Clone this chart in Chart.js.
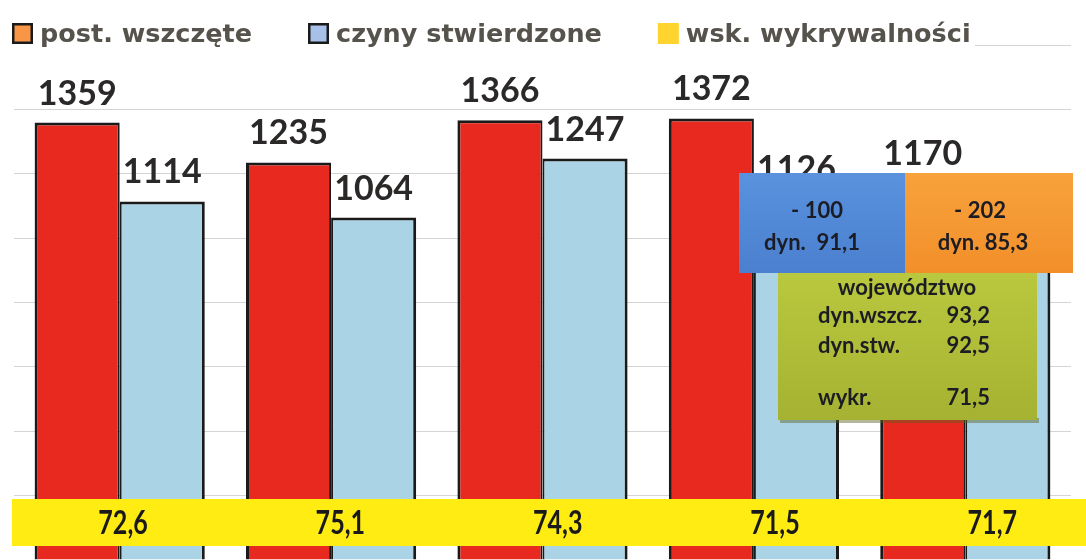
<!DOCTYPE html>
<html>
<head>
<meta charset="utf-8">
<script src="https://cdn.jsdelivr.net/npm/chart.js@4.4.1/dist/chart.umd.min.js"></script>
<style>
  html, body { margin: 0; padding: 0; background: #fff; overflow: hidden; }
</style>
</head>
<body>
<canvas id="myChart" width="1086" height="560"></canvas>
<script>
// dane
const categories = ['1', '2', '3', '4', '5'];
const postWszczete = [1359, 1235, 1366, 1372, 1170];
const czynyStwierdzone = [1114, 1064, 1247, 1126, 1026];
const wskWykrywalnosci = [72.6, 75.1, 74.3, 71.5, 71.7];
const seriesNames = ['post. wszczęte', 'czyny stwierdzone', 'wsk. wykrywalności'];
const legendColors = ['#f79646', '#a7c0e8', '#ffd42e'];

// ramki z komentarzem
const boxBlue = ['- 100', 'dyn.  91,1'];
const boxOrange = ['- 202', 'dyn. 85,3'];
const boxGreenTitle = 'województwo';
const boxGreenRows = [['dyn.wszcz.', '93,2'], ['dyn.stw.', '92,5'], ['wykr.', '71,5']];

const fmt = v => v.toFixed(1).replace('.', ',');

function gradBox(ctx, x, y, w, h, c1, c2) {
  const g = ctx.createLinearGradient(0, y, 0, y + h);
  g.addColorStop(0, c1);
  g.addColorStop(1, c2);
  ctx.fillStyle = g;
  ctx.fillRect(x, y, w, h);
}

const extras = {
  id: 'extras',
  beforeDatasetsDraw(chart) {
    const ctx = chart.ctx;
    ctx.save();
    // legenda zaslania gorna linie siatki
    ctx.fillStyle = '#fff';
    ctx.fillRect(0, 0, 975, 50);
    ctx.font = 'bold 25.5px "DejaVu Sans"';
    ctx.textBaseline = 'alphabetic';
    let x = 12;
    seriesNames.forEach((name, i) => {
      ctx.fillStyle = legendColors[i];
      ctx.fillRect(x, 23, 21, 21);
      if (i < 2) {
        ctx.lineWidth = 2.5;
        ctx.strokeStyle = '#1a1a1a';
        ctx.strokeRect(x + 1.25, 24.25, 18.5, 18.5);
      }
      ctx.fillStyle = '#56524c';
      ctx.fillText(name, x + 28, 42);
      x += 28 + ctx.measureText(name).width + 56;
    });
    ctx.restore();
  },
  afterDatasetsDraw(chart) {
    const ctx = chart.ctx;
    ctx.save();
    // etykiety nad slupkami
    ctx.font = 'bold 34px Lato';
    ctx.textAlign = 'center';
    ctx.textBaseline = 'alphabetic';
    ctx.fillStyle = '#2b2828';
    [0, 1].forEach(d => {
      const ds = chart.data.datasets[d];
      chart.getDatasetMeta(d).data.forEach((bar, i) => {
        ctx.fillText(String(ds.data[i]), bar.x, bar.y - 18);
      });
    });
    // zolty pasek ze wskaznikiem wykrywalnosci
    ctx.fillStyle = '#ffec12';
    ctx.fillRect(12, 499, 1074, 47);
    ctx.font = 'bold 33px Lato';
    ctx.fillStyle = '#1a1a1a';
    ctx.textBaseline = 'middle';
    const xs = chart.scales.x;
    chart.data.datasets[2].data.forEach((v, i) => {
      // pole tekstowe w oryginale jest troche szersze niz wykres
      const px = xs.getPixelForValue(i) * 1.028;
      ctx.save();
      ctx.translate(px, 523);
      ctx.scale(0.76, 1);
      ctx.fillText(fmt(v), 0, 0);
      ctx.restore();
    });
    ctx.restore();
  },
  afterDraw(chart) {
    const ctx = chart.ctx;
    ctx.save();
    // cien pod zielona ramka
    ctx.fillStyle = 'rgba(90,95,30,0.45)';
    ctx.fillRect(780, 418, 259, 5);
    gradBox(ctx, 778, 273, 259, 147, '#b9c83e', '#a5b232');
    gradBox(ctx, 739, 173, 166, 100, '#5a92de', '#4a80cf');
    gradBox(ctx, 905, 173, 168, 100, '#f7a23c', '#f28f2a');

    ctx.fillStyle = '#1c1c24';
    ctx.textAlign = 'center';
    ctx.textBaseline = 'alphabetic';
    ctx.font = 'bold 22px Lato';
    ctx.fillText(boxBlue[0], 817, 218);
    ctx.fillText(boxBlue[1], 812, 250);
    ctx.fillText(boxOrange[0], 980, 218);
    ctx.fillText(boxOrange[1], 983, 250);

    ctx.font = 'bold 22px Lato';
    ctx.fillText(boxGreenTitle, 907, 295);
    const rowY = [323, 353, 405];
    boxGreenRows.forEach((r, i) => {
      ctx.textAlign = 'left';
      ctx.fillText(r[0], 818, rowY[i]);
      ctx.textAlign = 'right';
      ctx.fillText(r[1], 990, rowY[i]);
    });
    ctx.restore();
  }
};

const data = {
  labels: categories,
  datasets: [{
    label: seriesNames[0],
    data: postWszczete,
    backgroundColor: '#e8291f',
    borderColor: '#1a1a1a',
    borderWidth: { top: 3, left: 3, right: 2, bottom: 0 },
    categoryPercentage: 0.805,
    barPercentage: 1.0
  }, {
    label: seriesNames[1],
    data: czynyStwierdzone,
    backgroundColor: '#aad4e5',
    borderColor: '#1a1a1a',
    borderWidth: { top: 3, left: 2, right: 3, bottom: 0 },
    categoryPercentage: 0.805,
    barPercentage: 1.0
  }, {
    type: 'line',
    label: seriesNames[2],
    data: wskWykrywalnosci,
    yAxisID: 'y2',
    showLine: false,
    pointRadius: 0,
    borderColor: '#ffd42e',
    backgroundColor: '#ffd42e'
  }]
};

const ctx = document.getElementById('myChart');

new Chart(ctx, {
  type: 'bar',
  data: data,
  options: {
    responsive: false,
    animation: false,
    layout: { padding: { left: 14, right: 15, top: 45, bottom: 0 } },
    scales: {
      x: { display: false },
      y: {
        min: 0,
        max: 1600,
        ticks: { display: false, stepSize: 200 },
        border: { display: false },
        grid: { color: '#d4d4d4', lineWidth: 1, drawTicks: false }
      },
      y2: { display: false, min: 0, max: 100 }
    },
    plugins: {
      legend: { display: false },
      title: { display: false },
      tooltip: { enabled: false }
    }
  },
  plugins: [extras]
});
</script>
</body>
</html>
